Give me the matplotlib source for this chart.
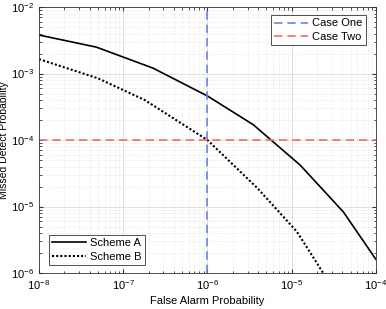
import matplotlib
matplotlib.use("Agg")
import matplotlib.pyplot as plt
import numpy as np

plt.rcParams["font.family"] = ["Liberation Sans", "DejaVu Sans"]
plt.rcParams["mathtext.fontset"] = "custom"
plt.rcParams["mathtext.rm"] = "Liberation Sans"
plt.rcParams["mathtext.it"] = "Liberation Sans:italic"

# data
pfa_a = [1e-8, 4.8e-8, 2.25e-7, 1e-6, 3.5e-6, 1.26e-5, 4.1e-5, 1e-4]
pmd_a = [3.8e-3, 2.5e-3, 1.21e-3, 4.6e-4, 1.7e-4, 4.2e-5, 8.3e-6, 1.6e-6]

pfa_b = [1e-8, 5.0e-8, 1.8e-7, 1e-6, 3.9e-6, 1.15e-5, 4e-5, 1e-4]
pmd_b = [1.65e-3, 8.5e-4, 4.0e-4, 1.0e-4, 1.9e-5, 4.2e-6, 3.5e-7, 5e-8]

case_one_pfa = 1e-6
case_two_pmd = 1e-4

fs = 8

fig = plt.figure(figsize=(3.86, 3.09), dpi=100)
ax = fig.add_axes([0.101, 0.1165, 0.873, 0.8605])

l1, = ax.loglog(pfa_a, pmd_a, color="black", lw=1.2, label="Scheme A")
l2, = ax.loglog(pfa_b, pmd_b, color="black", lw=1.5, ls=(0, (1, 1)), label="Scheme B")
l3 = ax.axvline(case_one_pfa, color="#6b7ff0", lw=1.2, ls=(0, (5, 3)), label="Case One")
l4 = ax.axhline(case_two_pmd, color="#f56b6b", lw=1.2, ls=(0, (5, 3)), label="Case Two")

ax.set_xlim(1e-8, 1e-4)
ax.set_ylim(1e-6, 1e-2)
ax.grid(True, which="major", color="#dcdcdc", lw=0.6)
ax.grid(True, which="minor", color="#d8d8d8", lw=0.5, ls=(0, (1, 2)))
ax.tick_params(which="both", direction="in", top=True, right=True, labelsize=fs,
               color="#333333")
ax.tick_params(which="major", length=3)
ax.tick_params(which="minor", length=1.8)
for s in ax.spines.values():
    s.set_color("#333333")
    s.set_linewidth(0.6)

ax.set_xlabel("False Alarm Probability", fontsize=fs, labelpad=3)
ax.set_ylabel("Missed Detect Probability", fontsize=7.5)
ax.yaxis.set_label_coords(-0.088, 0.5)

leg1 = ax.legend(handles=[l1, l2], loc="lower left", fontsize=fs, fancybox=False,
                 edgecolor="#333333", framealpha=1, handlelength=3.0,
                 borderaxespad=0.0, bbox_to_anchor=(0.03, 0.03), borderpad=0.3,
                 labelspacing=0.3, handletextpad=0.4)
leg1.get_frame().set_linewidth(0.6)
ax.add_artist(leg1)
leg2 = ax.legend(handles=[l3, l4], loc="upper right", fontsize=fs, fancybox=False,
                 edgecolor="#333333", framealpha=1, handlelength=3.0,
                 borderaxespad=0.0, bbox_to_anchor=(0.97, 0.97), borderpad=0.3,
                 labelspacing=0.3, handletextpad=0.4)
leg2.get_frame().set_linewidth(0.6)

fig.savefig("out.png", dpi=100)
